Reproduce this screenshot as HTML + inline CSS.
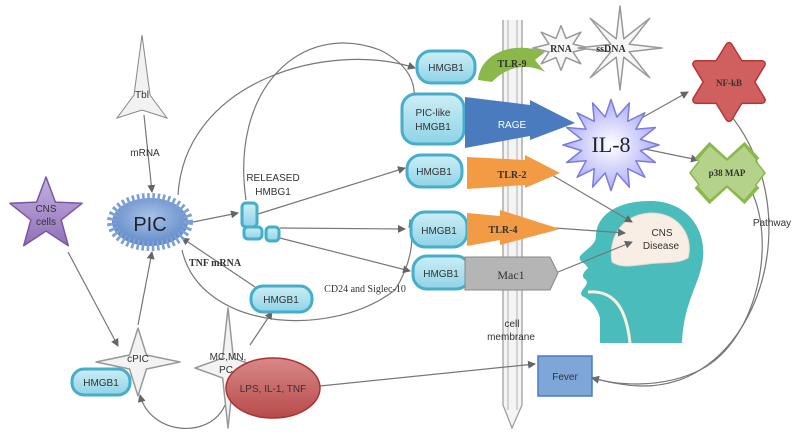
<!DOCTYPE html>
<html><head><meta charset="utf-8"><style>
html,body{margin:0;padding:0;background:#fff;}
svg{display:block;font-family:"Liberation Sans",sans-serif;}
.s{font-family:"Liberation Serif",serif;}
</style></head><body>
<svg width="798" height="444" viewBox="0 0 798 444" xmlns="http://www.w3.org/2000/svg">
<defs>
<marker id="a" markerWidth="8" markerHeight="8" refX="7" refY="4" orient="auto" markerUnits="userSpaceOnUse"><path d="M0,0 L8,4 L0,8 z" fill="#666"/></marker>
<linearGradient id="bl" x1="0" y1="0" x2="0" y2="1"><stop offset="0" stop-color="#cdeef6"/><stop offset="1" stop-color="#8fd3e6"/></linearGradient>
<radialGradient id="pic" cx="0.5" cy="0.4" r="0.6"><stop offset="0" stop-color="#a9c4e8"/><stop offset="1" stop-color="#5f88c6"/></radialGradient>
<radialGradient id="il8" cx="0.5" cy="0.5" r="0.6"><stop offset="0" stop-color="#fff"/><stop offset="1" stop-color="#9d9df5"/></radialGradient>
<linearGradient id="red" x1="0" y1="0" x2="0" y2="1"><stop offset="0" stop-color="#d98888"/><stop offset="1" stop-color="#b84a4a"/></linearGradient>
<linearGradient id="pur" x1="0" y1="0" x2="0" y2="1"><stop offset="0" stop-color="#c4b0e0"/><stop offset="1" stop-color="#9070b8"/></linearGradient>
</defs>
<!-- head -->
<path d="M600,343 L600,318 C596,305 590,300 582,296 C578,290 590,286 586,280 C580,276 584,272 588,268 C585,262 578,262 580,256 C588,248 596,244 596,236 C596,214 620,200 652,201 C688,202 706,230 703,258 C700,285 684,300 682,343 Z" fill="#4bbcbc"/>
<path d="M612,262 C608,240 620,215 650,213 C680,212 694,238 688,258 C678,264 662,262 648,264 C632,266 620,268 612,262 Z" fill="#f8eee6" stroke="#e8d6c8"/>
<path d="M588,292 C612,290 626,305 630,343" fill="none" stroke="#f5f0e0" stroke-width="3"/>
<g stroke="#777" stroke-width="1.2" fill="none">
<path d="M503,20 L503,405 L512,428 L522,405 L522,20" fill="#f4f4f4" stroke="#999"/>
<line x1="508" y1="20" x2="508" y2="410" stroke="#bbb"/>
<line x1="517" y1="20" x2="517" y2="410" stroke="#bbb"/>
<path d="M178,195 C185,80 330,40 415,68" marker-end="url(#a)"/>
<path d="M246,200 C230,90 300,20 380,50 C420,70 420,100 405,120" marker-end="url(#a)"/>
<path d="M182,250 C200,330 330,340 395,290 C420,250 410,220 410,220" marker-end="url(#a)"/>
<path d="M144,115 L152,192" marker-end="url(#a)"/>
<path d="M193,222 L238,213" marker-end="url(#a)"/>
<path d="M258,214 L405,168" marker-end="url(#a)"/>
<path d="M280,228 L405,229" marker-end="url(#a)"/>
<path d="M268,235 L410,271" marker-end="url(#a)"/>
<path d="M255,287 L182,238" marker-end="url(#a)"/>
<path d="M138,325 L152,252" marker-end="url(#a)"/>
<path d="M68,252 L118,346" marker-end="url(#a)"/>
<path d="M250,345 L272,312" marker-end="url(#a)"/>
<path d="M225,405 C210,440 150,435 140,395" marker-end="url(#a)"/>
<path d="M320,386 L535,364" marker-end="url(#a)"/>
<path d="M638,120 L688,92" marker-end="url(#a)"/>
<path d="M640,148 L698,160" marker-end="url(#a)"/>
<path d="M535,165 L632,222" marker-end="url(#a)"/>
<path d="M555,228 L625,233" marker-end="url(#a)"/>
<path d="M558,272 L632,242" marker-end="url(#a)"/>
<path d="M708,92 C800,170 780,320 700,370 C660,395 620,385 592,378" marker-end="url(#a)"/>
<path d="M745,180 C780,230 760,340 700,370 C660,390 610,385 592,377"/>
</g>
<!-- stars -->
<g stroke-width="1.5" stroke-linejoin="round">
<polygon points="46,177 55.4,202.1 82.1,203.3 61.2,219.9 68.3,245.7 46,231 23.7,245.7 30.8,219.9 9.9,203.3 36.6,202.1" fill="url(#pur)" stroke="#7a55a5"/>
<ellipse cx="150" cy="222" rx="38" ry="24" fill="url(#pic)" stroke="#7b9fd6" stroke-width="10" stroke-dasharray="2.5 2.5"/>
<polygon points="138,328 146.5,355 180,362 146.5,369 138,396 129.5,369 96,362 129.5,355" fill="#f3f3f3" stroke="#999"/>
<polygon points="228,308 233.4,358.1 261,368 233.4,377.9 228,428 222.6,377.9 195,368 222.6,358.1" fill="#f3f3f3" stroke="#999"/>
<polygon points="561,25.6 566,38.4 580.8,32.2 573,44 589,48 573,52 580.8,63.8 566,57.6 561,70.4 556,57.6 541.2,63.8 549,52 533,48 549,44 541.2,32.2 556,38.4" fill="#f7f7f7" stroke="#999"/>
<polygon points="620,6 623.8,38.8 649.7,18.3 629.2,44.2 662,48 629.2,51.8 649.7,77.7 623.8,57.2 620,90 616.2,57.2 590.3,77.7 610.8,51.8 578,48 610.8,44.2 590.3,18.3 616.2,38.8" fill="#f7f7f7" stroke="#999"/>
<polygon points="611,99.4 616.9,117 629.4,102.9 627.7,121.3 644.9,112.8 635.9,129.2 655.4,127.5 640.4,139.4 659,145 640.4,150.6 655.4,162.5 635.9,160.8 644.9,177.2 627.7,168.7 629.4,187.1 616.9,173 611,190.6 605.1,173 592.6,187.1 594.3,168.7 577.1,177.2 586.1,160.8 566.6,162.5 581.6,150.6 563,145 581.6,139.4 566.6,127.5 586.1,129.2 577.1,112.8 594.3,121.3 592.6,102.9 605.1,117" fill="url(#il8)" stroke="#7b7be0"/>
<polygon points="729,45.9 740,63.9 761.9,64 751,82 761.9,100 740,100.1 729,118.1 718,100.1 696.1,100 707,82 696.1,64 718,63.9" fill="#d06060" stroke="#b33" stroke-width="8"/>
<polygon points="729,45.9 740,63.9 761.9,64 751,82 761.9,100 740,100.1 729,118.1 718,100.1 696.1,100 707,82 696.1,64 718,63.9" fill="#d06060" stroke="#d06060" stroke-width="5"/>
</g>
<g stroke-linecap="butt">
<path d="M702,150 L752,196 M752,150 L702,196" stroke="#8ab84a" stroke-width="22"/>
<polygon points="690,173 700,160 755,160 765,173 755,186 700,186" fill="#b5d28a" stroke="#8ab84a" stroke-width="1.5"/>
<path d="M704,153 L750,193 M750,153 L704,193" stroke="#b5d28a" stroke-width="18"/>
</g>
<path d="M142,35 L150,95 L167,118 L142,110 L117,118 L134,95 Z" fill="#f2f2f2" stroke="#888"/>
<g fill="url(#bl)" stroke="#45aecb" stroke-width="3">
<rect x="417" y="51" width="58" height="32" rx="14"/>
<rect x="402" y="94" width="62" height="50" rx="14"/>
<rect x="407" y="155" width="55" height="32" rx="14"/>
<rect x="411" y="212" width="56" height="35" rx="14"/>
<rect x="413" y="256" width="57" height="33" rx="14"/>
<rect x="251" y="286" width="61" height="26" rx="12"/>
<rect x="72" y="369" width="58" height="26" rx="12"/>
<rect x="242" y="203" width="15" height="24" rx="4"/>
<rect x="244" y="227" width="18" height="12" rx="4"/>
<rect x="266" y="227" width="13" height="14" rx="4"/>
</g>
<path d="M478,80 C480,55 510,40 545,52 L535,60 L545,72 C525,62 505,68 492,82 Z" fill="#8ab84a"/>
<path d="M465,97 L530,105 L530,100 L575,123 L530,140 L530,136 L465,148 Z" fill="#4a7bbf"/>
<path d="M467,157 L525,160 L525,155 L560,173 L525,188 L525,185 L467,189 Z" fill="#f39a44"/>
<path d="M467,213 L500,216 L500,210 L560,229 L500,245 L500,240 L467,246 Z" fill="#f39a44"/>
<path d="M465,257 L550,257 L558,273 L550,290 L465,290 Z" fill="#b5b5b5" stroke="#888"/>
<rect x="538" y="356" width="54" height="40" fill="#7ea6d8" stroke="#4a7bbf" stroke-width="1.5"/>
<ellipse cx="273" cy="388" rx="47" ry="30" fill="url(#red)" stroke="#a33" stroke-width="1.5"/>
<g font-size="10" fill="#333" text-anchor="middle">
<text x="142" y="98">Tbl</text>
<text x="145" y="156">mRNA</text>
<text x="46" y="212">CNS</text><text x="46" y="225">cells</text>
<text x="150" y="231" font-size="20" fill="#223">PIC</text>
<text x="273" y="181">RELEASED</text><text x="273" y="195">HMBG1</text>
<text x="215" y="266" class="s" font-weight="bold" font-size="10">TNF mRNA</text>
<text x="365" y="292" class="s" font-size="10">CD24 and Siglec-10</text>
<text x="281" y="303">HMGB1</text>
<text x="101" y="386">HMGB1</text>
<text x="138" y="362">cPIC</text>
<text x="228" y="360">MC,MN,</text><text x="226" y="373">PC</text>
<text x="273" y="392">LPS, IL-1, TNF</text>
<text x="446" y="71">HMGB1</text>
<text x="433" y="116">PIC-like</text><text x="433" y="130">HMGB1</text>
<text x="434" y="175">HMGB1</text>
<text x="439" y="234">HMGB1</text>
<text x="441" y="277">HMGB1</text>
<text x="512" y="67" class="s" font-weight="bold">TLR-9</text>
<text x="512" y="128" fill="#fff">RAGE</text>
<text x="512" y="178" class="s" font-weight="bold">TLR-2</text>
<text x="503" y="233" class="s" font-weight="bold">TLR-4</text>
<text x="511" y="279" class="s" font-size="12">Mac1</text>
<text x="561" y="52" class="s" font-weight="bold">RNA</text>
<text x="611" y="52" class="s" font-weight="bold">ssDNA</text>
<text x="611" y="152" class="s" font-size="22" fill="#223">IL-8</text>
<text x="729" y="86" class="s" font-size="9" font-weight="bold">NF-kB</text>
<text x="727" y="176" class="s" font-size="9" font-weight="bold">p38 MAP</text>
<text x="662" y="236">CNS</text><text x="661" y="249">Disease</text>
<text x="772" y="226">Pathway</text>
<text x="512" y="327">cell</text><text x="511" y="340">membrane</text>
<text x="565" y="380">Fever</text>
</g>
</svg>
</body></html>
